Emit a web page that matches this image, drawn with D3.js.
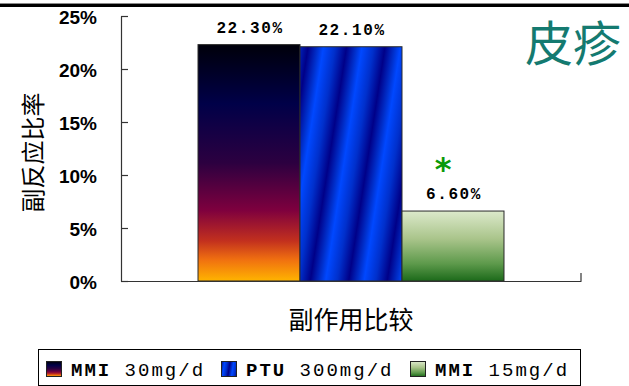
<!DOCTYPE html>
<html>
<head>
<meta charset="utf-8">
<script src="https://cdn.jsdelivr.net/npm/d3@7"></script>
<style>
  html, body { margin: 0; padding: 0; background: #fff; }
  svg { display: block; }
</style>
</head>
<body>
<svg id="chart" width="629" height="386"></svg>
<script>
// Rash incidence by treatment regimen
const chartTitle = "皮疹";
const category = "副作用比较";
const yTitle = "副反应比率";
const seriesNames = ["MMI 30mg/d", "PTU 300mg/d", "MMI 15mg/d"];
const seriesValues = [0.223, 0.221, 0.066];
const valueLabels = ["22.30%", "22.10%", "6.60%"];
const significance = ["", "", "*"];
const yTicks = [0, 0.05, 0.10, 0.15, 0.20, 0.25];

const svg = d3.select("#chart");
const W = 629, H = 386;
const plot = { left: 121, right: 581, top: 16, bottom: 281 };

// ---- fills ----
const defs = svg.append("defs");

// vertical "fire" gradient
const fire = defs.append("linearGradient").attr("id", "fill0")
  .attr("x1", 0).attr("y1", 0).attr("x2", 0).attr("y2", 1);
[[0, "#00000a"], [0.25, "#000048"], [0.5, "#2c0040"], [0.7, "#7e003e"],
 [0.83, "#c2301e"], [0.91, "#f07010"], [1, "#ffb400"]]
  .forEach(([o, c]) => fire.append("stop").attr("offset", o).attr("stop-color", c));

// diagonal blue stripes
function stripes(id, x0, y0, period) {
  const dx = period * 0.988, dy = period * 0.153;
  const g = defs.append("linearGradient").attr("id", id)
    .attr("gradientUnits", "userSpaceOnUse")
    .attr("spreadMethod", "repeat")
    .attr("x1", x0).attr("y1", y0).attr("x2", x0 + dx).attr("y2", y0 + dy);
  [[0, "#0048ff"], [0.3, "#0030cc"], [0.6, "#000088"], [0.85, "#0030cc"], [1, "#0048ff"]]
    .forEach(([o, c]) => g.append("stop").attr("offset", o).attr("stop-color", c));
}
stripes("fill1", 323, 50, 38);

// vertical green gradient
const green = defs.append("linearGradient").attr("id", "fill2")
  .attr("x1", 0).attr("y1", 0).attr("x2", 0).attr("y2", 1);
[[0, "#dce9cb"], [0.4, "#a9c48a"], [0.75, "#5e9a4c"], [1, "#1c6a1a"]]
  .forEach(([o, c]) => green.append("stop").attr("offset", o).attr("stop-color", c));

// ---- top rule ----
svg.append("rect").attr("x", 0).attr("y", 3).attr("width", W).attr("height", 1).attr("fill", "#8a8a8a");
svg.append("rect").attr("x", 0).attr("y", 4).attr("width", W).attr("height", 3).attr("fill", "#000");

// ---- scales ----
const x = d3.scaleBand().domain([category]).range([plot.left, plot.right]);
const xs = d3.scaleBand().domain(seriesNames)
  .range([x(category), x(category) + x.bandwidth()])
  .paddingInner(0).paddingOuter(0.755);
const y = d3.scaleLinear().domain([0, 0.25]).range([plot.bottom, plot.top]);

// ---- bars ----
const bars = svg.append("g");
bars.selectAll("rect").data(seriesNames).join("rect")
  .attr("x", d => xs(d))
  .attr("y", (d, i) => y(seriesValues[i]))
  .attr("width", xs.bandwidth())
  .attr("height", (d, i) => y(0) - y(seriesValues[i]))
  .attr("fill", (d, i) => `url(#fill${i})`)
  .attr("stroke", "#2a2a2a").attr("stroke-width", 1);

// value labels
const monoFont = "'Liberation Mono', 'DejaVu Sans Mono', monospace";
svg.append("g").selectAll("text").data(seriesNames).join("text")
  .attr("x", d => xs(d) + xs.bandwidth() / 2 + 1)
  .attr("y", (d, i) => y(seriesValues[i]) - 12)
  .attr("text-anchor", "middle")
  .style("font-family", monoFont)
  .style("font-size", "16px")
  .style("font-weight", "bold")
  .style("letter-spacing", "1.6px")
  .attr("fill", "#000")
  .text((d, i) => valueLabels[i]);

// significance markers
svg.append("g").selectAll("text").data(seriesNames).join("text")
  .attr("x", d => xs(d) + xs.bandwidth() / 2 - 10)
  .attr("y", (d, i) => y(seriesValues[i]) - 31)
  .attr("text-anchor", "middle")
  .style("font-family", "'DejaVu Sans', sans-serif")
  .style("font-size", "32px")
  .style("font-weight", "bold")
  .attr("fill", "#0a9a0a")
  .text((d, i) => significance[i]);

// ---- axes ----
const yAxis = d3.axisLeft(y).tickValues(yTicks)
  .tickFormat(d3.format(".0%"))
  .tickSizeInner(-7).tickSizeOuter(0).tickPadding(24);
const gy = svg.append("g").attr("transform", `translate(${plot.left},0)`).call(yAxis);
gy.select(".domain").attr("stroke", "#333").attr("stroke-width", 1.2);
gy.selectAll(".tick line").attr("stroke", "#333").attr("stroke-width", 1.2);
gy.selectAll(".tick text")
  .attr("dy", "0.42em")
  .style("font-family", "'Liberation Sans', Arial, sans-serif")
  .style("font-size", "19px")
  .style("font-weight", "bold")
  .attr("fill", "#000");

const xAxis = d3.axisBottom(x).tickSizeOuter(0).tickSize(0).tickFormat("");
const gx = svg.append("g").attr("transform", `translate(0,${plot.bottom})`).call(xAxis);
gx.select(".domain").attr("stroke", "#333").attr("stroke-width", 1.2);
// category boundary tick marks
gx.append("g").selectAll("line").data([x(category) + x.bandwidth()]).join("line")
  .attr("x1", d => d).attr("x2", d => d)
  .attr("y1", 0).attr("y2", -8)
  .attr("stroke", "#333").attr("stroke-width", 1.2);

// ---- titles ----
const cjk = "'Noto Sans CJK SC', 'Noto Sans CJK JP', sans-serif";
svg.append("text")
  .attr("x", x(category) + x.bandwidth() / 2)
  .attr("y", 318)
  .attr("text-anchor", "middle")
  .attr("dominant-baseline", "central")
  .style("font-family", cjk).style("font-size", "25px")
  .attr("fill", "#000")
  .text(category);

svg.append("text")
  .attr("transform", `translate(31,${(plot.top + plot.bottom) / 2 + 4}) rotate(-90)`)
  .attr("text-anchor", "middle")
  .attr("dominant-baseline", "central")
  .style("font-family", cjk).style("font-size", "24px")
  .attr("fill", "#000")
  .text(yTitle);

svg.append("text")
  .attr("x", 573).attr("y", 40)
  .attr("text-anchor", "middle")
  .attr("dominant-baseline", "central")
  .style("font-family", cjk).style("font-size", "48px")
  .attr("fill", "#147a70")
  .text(chartTitle);

// ---- legend ----
const legend = svg.append("g");
legend.append("rect")
  .attr("x", 38.5).attr("y", 349.5).attr("width", 542).attr("height", 36)
  .attr("fill", "#fff").attr("stroke", "#000").attr("stroke-width", 1);

const legendX = [46, 221, 410];
stripes("fill1legend", 221, 361, 9);
const item = legend.selectAll("g.item").data(seriesNames).join("g")
  .attr("class", "item")
  .attr("transform", (d, i) => `translate(${legendX[i]},361)`);
item.append("rect")
  .attr("x", 0.5).attr("y", 0.5).attr("width", 15).attr("height", 15)
  .attr("fill", (d, i) => i === 1 ? "url(#fill1legend)" : `url(#fill${i})`)
  .attr("stroke", "#222").attr("stroke-width", 1);
const lt = item.append("text")
  .attr("x", 25).attr("y", 15)
  .style("font-family", monoFont)
  .style("font-size", "19px")
  .style("letter-spacing", "2px")
  .attr("fill", "#000");
lt.append("tspan").style("font-weight", "bold").text(d => d.split(" ")[0]);
lt.append("tspan").text(d => " " + d.split(" ").slice(1).join(" "));
</script>
</body>
</html>
